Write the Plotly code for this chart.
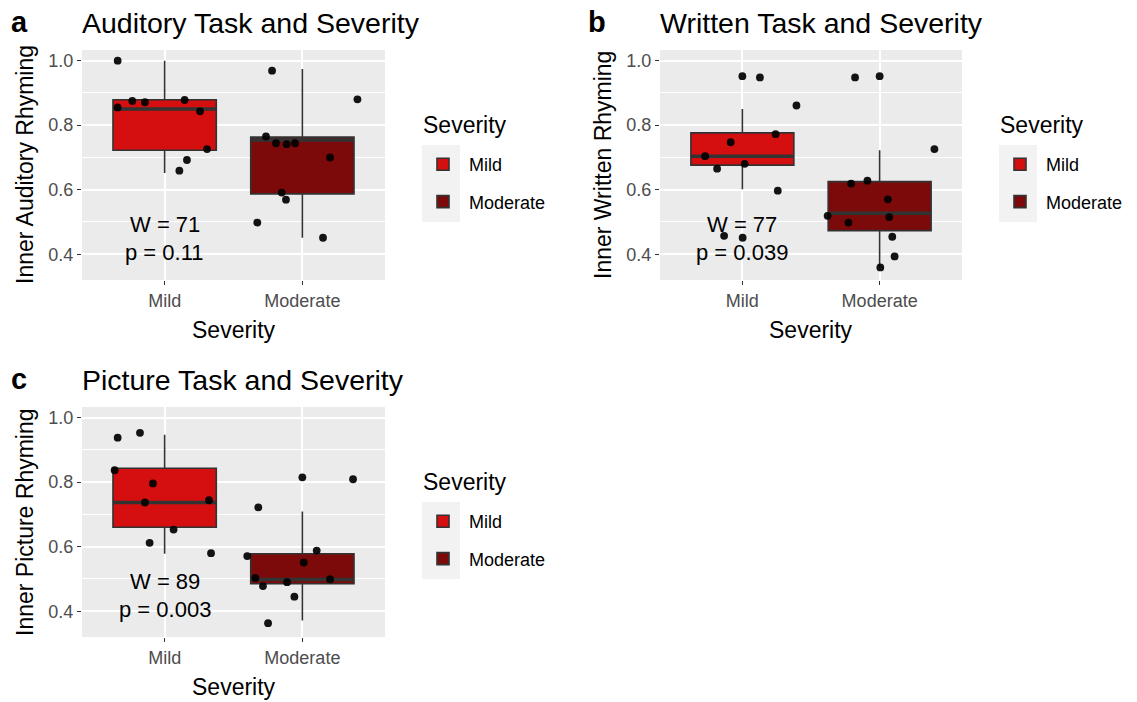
import plotly.graph_objects as go

FONT = "Liberation Sans, Arial, sans-serif"
W, H = 1137, 702
OFF = 0  # page body margin is removed below, so window pixels == figure pixels

CATEGORIES = ["Mild", "Moderate"]
Y_TICKS = [0.4, 0.6, 0.8, 1.0]
Y_TICK_LABELS = ["0.4", "0.6", "0.8", "1.0"]
Y_MINOR = [0.5, 0.7, 0.9]

# ---- Panel a: Auditory ----
AUD_MILD = [1.0, 0.855, 0.875, 0.871, 0.878, 0.843, 0.726, 0.692, 0.659]
AUD_MILD_JIT = [-0.341, -0.341, -0.235, -0.143, 0.145, 0.257, 0.308, 0.162, 0.107]
AUD_MOD = [0.969, 0.880, 0.765, 0.744, 0.741, 0.744, 0.700, 0.591, 0.569, 0.498, 0.451]
AUD_MOD_JIT = [-0.220, 0.400, -0.264, -0.191, -0.114, -0.053, 0.201, -0.150, -0.119, -0.327, 0.150]
AUD_Q1 = [0.722, 0.587]
AUD_MED = [0.850, 0.754]
AUD_Q3 = [0.879, 0.763]
AUD_LO = [0.652, 0.451]
AUD_HI = [1.0, 0.974]
AUD_STAT = ["W = 71", "p = 0.11"]

# ---- Panel b: Written ----
WRI_MILD = [0.952, 0.948, 0.861, 0.772, 0.747, 0.704, 0.665, 0.680, 0.597, 0.457, 0.451]
WRI_MILD_JIT = [0.0, 0.128, 0.394, 0.242, -0.085, -0.271, -0.184, 0.017, 0.258, -0.133, 0.002]
WRI_MOD = [0.948, 0.952, 0.726, 0.628, 0.619, 0.570, 0.519, 0.515, 0.498, 0.454, 0.393, 0.359]
WRI_MOD_JIT = [-0.179, 0.0, 0.399, -0.089, -0.208, 0.060, -0.379, 0.070, -0.227, 0.092, 0.109, 0.005]
WRI_Q1 = [0.676, 0.473]
WRI_MED = [0.704, 0.527]
WRI_Q3 = [0.776, 0.625]
WRI_LO = [0.601, 0.359]
WRI_HI = [0.850, 0.722]
WRI_STAT = ["W = 77", "p = 0.039"]

# ---- Panel c: Picture ----
PIC_MILD = [0.938, 0.953, 0.837, 0.796, 0.737, 0.744, 0.653, 0.612, 0.580]
PIC_MILD_JIT = [-0.341, -0.179, -0.363, -0.085, -0.143, 0.322, 0.065, -0.109, 0.337]
PIC_MOD = [0.815, 0.809, 0.722, 0.571, 0.588, 0.551, 0.503, 0.478, 0.490, 0.499, 0.445, 0.363]
PIC_MOD_JIT = [0.0, 0.368, -0.320, -0.400, 0.104, 0.010, -0.341, -0.286, -0.111, 0.201, -0.058, -0.249]
PIC_Q1 = [0.660, 0.485]
PIC_MED = [0.737, 0.498]
PIC_Q3 = [0.843, 0.578]
PIC_LO = [0.578, 0.371]
PIC_HI = [0.947, 0.709]
PIC_STAT = ["W = 89", "p = 0.003"]

FILLS = ["#D50F0F", "#7D0A0A"]
OUTLINE = "#333333"
BOX_W = 0.75

panels = [
    dict(tag="a", title="Auditory Task and Severity", ytitle="Inner Auditory Rhyming",
         pts=[AUD_MILD, AUD_MOD], jit=[AUD_MILD_JIT, AUD_MOD_JIT],
         q1=AUD_Q1, med=AUD_MED, q3=AUD_Q3, lo=AUD_LO, hi=AUD_HI, stat=AUD_STAT,
         px=(82, 385), py=(50, 280), ax="", leg="legend", legpos=(421, 125)),
    dict(tag="b", title="Written Task and Severity", ytitle="Inner Written Rhyming",
         pts=[WRI_MILD, WRI_MOD], jit=[WRI_MILD_JIT, WRI_MOD_JIT],
         q1=WRI_Q1, med=WRI_MED, q3=WRI_Q3, lo=WRI_LO, hi=WRI_HI, stat=WRI_STAT,
         px=(660, 962), py=(50, 280), ax="2", leg="legend2", legpos=(998, 125)),
    dict(tag="c", title="Picture Task and Severity", ytitle="Inner Picture Rhyming",
         pts=[PIC_MILD, PIC_MOD], jit=[PIC_MILD_JIT, PIC_MOD_JIT],
         q1=PIC_Q1, med=PIC_MED, q3=PIC_Q3, lo=PIC_LO, hi=PIC_HI, stat=PIC_STAT,
         px=(82, 385), py=(407, 637), ax="3", leg="legend3", legpos=(421, 482)),
]

fig = go.Figure()
layout = dict(
    width=W, height=H, margin=dict(l=0, r=0, t=0, b=0, autoexpand=False),
    paper_bgcolor="white", plot_bgcolor="#EBEBEB",
    font=dict(family=FONT, color="black"),
    showlegend=True, annotations=[], shapes=[],
)

def px2x(p):
    return (p - OFF) / W

def py2y(p):
    return 1 - (p - OFF) / H

for P in panels:
    xa, ya = "x" + P["ax"], "y" + P["ax"]
    for i, cat in enumerate(CATEGORIES):
        pos = i + 1
        fig.add_trace(go.Box(
            x=[pos], q1=[P["q1"][i]], median=[P["med"][i]], q3=[P["q3"][i]],
            lowerfence=[P["lo"][i]], upperfence=[P["hi"][i]],
            width=BOX_W, fillcolor=FILLS[i], line=dict(color=OUTLINE, width=1.6),
            whiskerwidth=0, boxpoints=False, name=cat, legend=P["leg"],
            legendgroup=P["tag"] + cat, showlegend=True, hoverinfo="skip",
            xaxis=xa, yaxis=ya,
        ))
    for i, cat in enumerate(CATEGORIES):
        pos = i + 1
        fig.add_trace(go.Scatter(
            x=[pos - BOX_W / 2, pos + BOX_W / 2], y=[P["med"][i]] * 2, mode="lines",
            line=dict(color=OUTLINE, width=3.5), showlegend=False, hoverinfo="skip",
            xaxis=xa, yaxis=ya,
        ))
    for i, cat in enumerate(CATEGORIES):
        pos = i + 1
        fig.add_trace(go.Scatter(
            x=[pos + j for j in P["jit"][i]], y=P["pts"][i], mode="markers",
            marker=dict(color="black", size=7.8, opacity=0.92), showlegend=False,
            hoverinfo="skip", xaxis=xa, yaxis=ya,
        ))

    xd = [px2x(P["px"][0]), px2x(P["px"][1])]
    yd = [py2y(P["py"][1]), py2y(P["py"][0])]
    layout["xaxis" + P["ax"]] = dict(
        domain=xd, range=[0.4, 2.6], tickvals=[1, 2], ticktext=CATEGORIES,
        showgrid=True, gridcolor="white", gridwidth=1.6, zeroline=False,
        ticks="outside", ticklen=4, tickwidth=1.2, tickcolor=OUTLINE,
        tickfont=dict(size=18, color="#4D4D4D", family=FONT), anchor=ya,
        fixedrange=True, showline=False, automargin=False,
    )
    layout["yaxis" + P["ax"]] = dict(
        domain=yd, range=[0.32, 1.033], tickvals=Y_TICKS, ticktext=Y_TICK_LABELS,
        showgrid=True, gridcolor="white", gridwidth=1.6, zeroline=False,
        minor=dict(tickvals=Y_MINOR, showgrid=True, gridcolor="white", gridwidth=0.8, ticks=""),
        ticks="outside", ticklen=4, tickwidth=1.2, tickcolor=OUTLINE,
        tickfont=dict(size=18, color="#4D4D4D", family=FONT), anchor=xa,
        fixedrange=True, showline=False, automargin=False,
    )
    # texts
    x0, x1 = P["px"]
    y0, y1 = P["py"]
    anns = layout["annotations"]
    anns.append(dict(text="<b>" + P["tag"] + "</b>", x=px2x(x0 - 63), y=py2y(y0 - 28),
                     xref="paper", yref="paper", xanchor="center", yanchor="middle",
                     showarrow=False, font=dict(size=29, family=FONT)))
    anns.append(dict(text=P["title"], x=px2x(x0 - 2), y=py2y(y0 - 27),
                     xref="paper", yref="paper", xanchor="left", yanchor="middle",
                     showarrow=False, font=dict(size=28.5, family=FONT)))
    anns.append(dict(text=P["ytitle"], x=px2x(x0 - 57), y=py2y((y0 + y1) / 2),
                     xref="paper", yref="paper", xanchor="center", yanchor="middle",
                     textangle=-90, showarrow=False, font=dict(size=23, family=FONT)))
    anns.append(dict(text="Severity", x=px2x((x0 + x1) / 2), y=py2y(y1 + 50),
                     xref="paper", yref="paper", xanchor="center", yanchor="middle",
                     showarrow=False, font=dict(size=23, family=FONT)))
    anns.append(dict(text=P["stat"][0], x=1, y=0.492, xref=xa, yref=ya,
                     xanchor="center", yanchor="middle", showarrow=False,
                     font=dict(size=22, family=FONT)))
    anns.append(dict(text=P["stat"][1], x=1, y=0.405, xref=xa, yref=ya,
                     xanchor="center", yanchor="middle", showarrow=False,
                     font=dict(size=22, family=FONT)))
    # legend (title as text, keys from the box traces)
    lx, ly = P["legpos"]
    anns.append(dict(text="Severity", x=px2x(lx), y=py2y(ly), xref="paper", yref="paper",
                     xanchor="left", yanchor="middle", showarrow=False,
                     font=dict(size=23, family=FONT)))
    layout[P["leg"]] = dict(
        x=px2x(lx - 4), y=py2y(ly + 21), xanchor="left", yanchor="top",
        font=dict(size=18, family=FONT), bgcolor="rgba(0,0,0,0)",
        traceorder="grouped", tracegroupgap=11, itemwidth=42,
    )
    layout["shapes"].append(dict(
        type="rect", xref="paper", yref="paper", layer="below",
        x0=px2x(lx + 1), x1=px2x(lx + 39), y0=py2y(ly + 97), y1=py2y(ly + 20),
        fillcolor="#F2F2F2", line=dict(width=0),
    ))

fig.update_layout(**layout)
fig.write_html("out.html", config={"displayModeBar": False},
               post_script="document.body.style.margin='0';")
